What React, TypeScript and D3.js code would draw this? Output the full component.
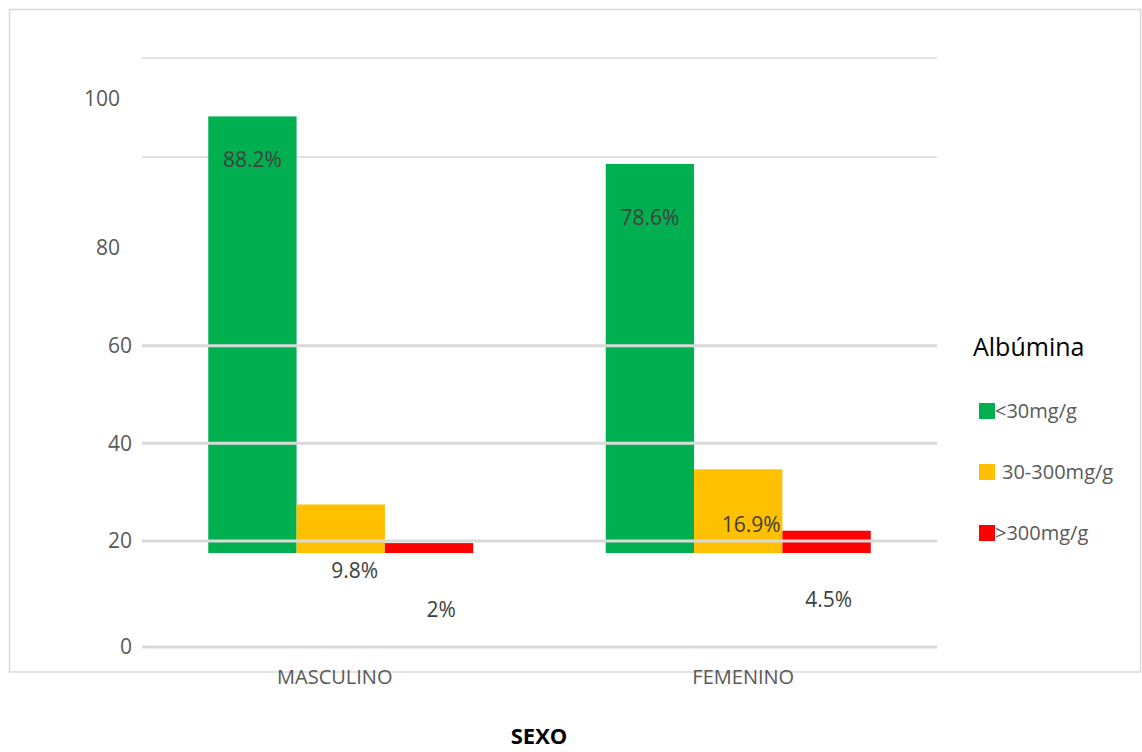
import React from 'react';
import * as d3 from 'd3';

// Albúmina por sexo (% de pacientes)
const categories = ['MASCULINO', 'FEMENINO'];
const seriesNames = ['<30mg/g', '30-300mg/g', '>300mg/g'];
const lowAlbumin = [88.2, 78.6];
const midAlbumin = [9.8, 16.9];
const highAlbumin = [2, 4.5];
const tickValues = [0, 20, 40, 60, 80, 100];
const backGridValues = [80, 100];
const frontGridValues = [0, 20, 40, 60];

const seriesValues = [lowAlbumin, midAlbumin, highAlbumin];
const colors = ['#00B050', '#FFC000', '#FF0000'];

// hand-placed label offsets [dx, dy from bar top], per category then series
const labelNudge = [
  [[0, 43], [14, 66], [12, 67]],
  [[0, 54], [13, 55], [2, 69]],
];

const W = 1142;
const H = 752;
const FONT = "'Open Sans', sans-serif";

export default function App() {
  const left = 142;
  const right = 937;

  const x0 = d3.scaleBand<string>().domain(categories).range([left, right]).padding(0);
  const groupW = (x0.bandwidth() * 2) / 3;
  const x1 = d3.scaleBand<string>().domain(seriesNames).range([0, groupW]).padding(0);
  const groupOffset = (x0.bandwidth() - groupW) / 2;

  const yBar = d3.scaleLinear().domain([0, 100]).range([553, 58]);
  const yAxis = d3.scaleLinear().domain([0, 20, 80, 100]).range([647, 541, 248, 99]);

  return (
    <svg
      width={W}
      height={H}
      style={{ position: 'absolute', left: 0, top: 0, background: '#fff' }}
      fontFamily={FONT}
    >
      <rect x={9.5} y={9.5} width={1131} height={662.5} fill="#fff" stroke="#d9d9d9" strokeWidth={1.5} />

      {backGridValues.map((v) => (
        <line key={'bg' + v} x1={left} x2={right} y1={yBar(v)} y2={yBar(v)} stroke="#d9d9d9" strokeWidth={1.5} />
      ))}

      {categories.map((c, ci) =>
        seriesNames.map((s, si) => {
          const v = seriesValues[si][ci];
          const bx = (x0(c) as number) + groupOffset + (x1(s) as number);
          return (
            <rect
              key={c + s}
              x={bx}
              y={yBar(v)}
              width={x1.bandwidth()}
              height={yBar(0) - yBar(v)}
              fill={colors[si]}
            />
          );
        })
      )}

      {frontGridValues.map((v) => (
        <line key={'fg' + v} x1={left} x2={right} y1={yAxis(v)} y2={yAxis(v)} stroke="#d9d9d9" strokeWidth={3} />
      ))}

      {tickValues.map((v) => (
        <text
          key={'t' + v}
          x={v >= 80 ? 120 : 132}
          y={yAxis(v)}
          dy="0.35em"
          textAnchor="end"
          fontSize={21}
          fill="#595959"
        >
          {v}
        </text>
      ))}

      {categories.map((c, ci) =>
        seriesNames.map((s, si) => {
          const v = seriesValues[si][ci];
          const cx = (x0(c) as number) + groupOffset + (x1(s) as number) + x1.bandwidth() / 2;
          const [dx, dy] = labelNudge[ci][si];
          return (
            <text
              key={'l' + c + s}
              x={cx + dx}
              y={yBar(v) + dy}
              dy="0.35em"
              textAnchor="middle"
              fontSize={21}
              fill="#404040"
            >
              {`${v}%`}
            </text>
          );
        })
      )}

      {categories.map((c, ci) => (
        <text
          key={'c' + c}
          x={(x0(c) as number) + x0.bandwidth() / 2 + (ci === 0 ? -6 : 5)}
          y={677}
          dy="0.35em"
          textAnchor="middle"
          fontSize={20}
          fill="#595959"
        >
          {c}
        </text>
      ))}

      <text x={539} y={736} dy="0.35em" textAnchor="middle" fontSize={22} fontWeight="bold" fill="#000">
        SEXO
      </text>

      <text x={973} y={356} fontSize={25} fill="#000">
        Albúmina
      </text>
      {seriesNames.map((s, i) => (
        <g key={'lg' + s} transform={`translate(979, ${403 + i * 61})`}>
          <rect width={16} height={16} fill={colors[i]} />
          <text x={i === 1 ? 23 : 16} y={8} dy="0.35em" fontSize={20} fill="#595959">
            {s}
          </text>
        </g>
      ))}
    </svg>
  );
}
